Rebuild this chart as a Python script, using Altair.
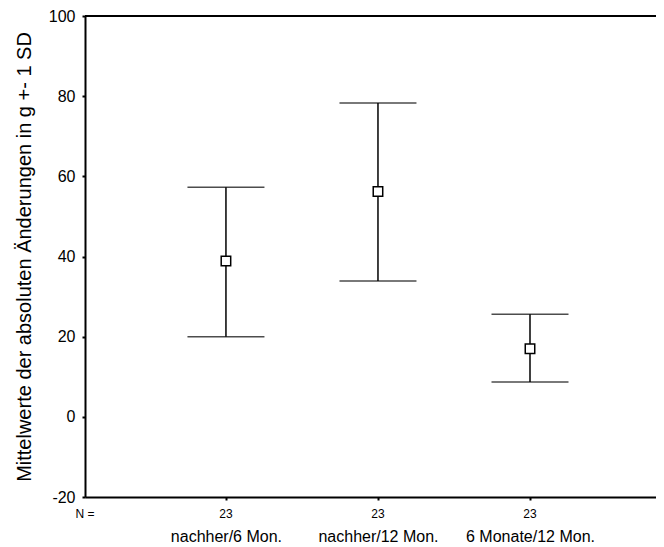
import altair as alt
import pandas as pd

categories = ["nachher/6 Mon.", "nachher/12 Mon.", "6 Monate/12 Mon."]
means = [38.9, 56.2, 17.0]
upper = [57.3, 78.3, 25.6]
lower = [20.0, 33.9, 8.7]
counts = ["23", "23", "23"]

df = pd.DataFrame({"cat": categories, "mean": means, "hi": upper, "lo": lower, "n": counts})

W, H = 571, 481
FONT = "Liberation Sans"

xenc = alt.X("cat:N", sort=categories,
             scale=alt.Scale(type="point", padding=0.878, align=0.528),
             axis=alt.Axis(title=None, labelAngle=0, labelFontSize=16, labelFont=FONT,
                           labelColor="black", tickSize=3, tickWidth=2, tickColor="black",
                           domain=True, domainColor="black", domainWidth=2,
                           labelPadding=28, grid=False))

yscale = alt.Scale(domain=[-20, 100], nice=False, zero=False)

rules = alt.Chart(df).mark_rule(color="black", strokeWidth=1.5).encode(
    x=xenc,
    y=alt.Y("lo:Q", scale=yscale,
            axis=alt.Axis(title="Mittelwerte der absoluten Änderungen in g +- 1 SD",
                          values=[-20, 0, 20, 40, 60, 80, 100], labelFontSize=16,
                          labelFont=FONT, labelColor="black", tickSize=3, tickWidth=2,
                          tickColor="black", labelPadding=7, domainColor="black",
                          domainWidth=2, titleFontSize=20, titleFont=FONT,
                          titleFontWeight="normal", titleColor="black", titlePadding=14,
                          labelExpr="replace(datum.label, '−', '-')",
                          grid=False)),
    y2="hi:Q",
)

cap_hi = alt.Chart(df).mark_tick(color="black", size=77, thickness=1.5, orient="horizontal").encode(
    x=alt.X("cat:N", sort=categories), y=alt.Y("hi:Q", scale=yscale))
cap_lo = alt.Chart(df).mark_tick(color="black", size=77, thickness=1.5, orient="horizontal").encode(
    x=alt.X("cat:N", sort=categories), y=alt.Y("lo:Q", scale=yscale))

pts = alt.Chart(df).mark_point(shape="square", size=90, filled=True, fill="white",
                               stroke="black", strokeWidth=1.5, opacity=1).encode(
    x=alt.X("cat:N", sort=categories), y=alt.Y("mean:Q", scale=yscale))

ntext = alt.Chart(df).mark_text(fontSize=12, font=FONT, color="black", baseline="middle").encode(
    x=alt.X("cat:N", sort=categories), y=alt.value(H + 17), text="n:N")

nlabel = alt.Chart(pd.DataFrame({"t": ["N ="]})).mark_text(
    fontSize=12, font=FONT, color="black", baseline="middle").encode(
    x=alt.value(0), y=alt.value(H + 17), text="t:N")

topline = alt.Chart(pd.DataFrame({"a": [0]})).mark_rule(color="black", strokeWidth=2).encode(
    x=alt.value(0), x2=alt.value(W), y=alt.value(0))

chart = alt.layer(topline, rules, cap_hi, cap_lo, pts, ntext, nlabel).properties(
    width=W, height=H,
    autosize=alt.AutoSizeParams(type="none"),
    padding={"left": 77, "top": 8, "right": 0, "bottom": 48},
).configure_view(stroke=None).configure(background="white")

chart.save("out.html", embed_options={"renderer": "svg", "actions": False})
